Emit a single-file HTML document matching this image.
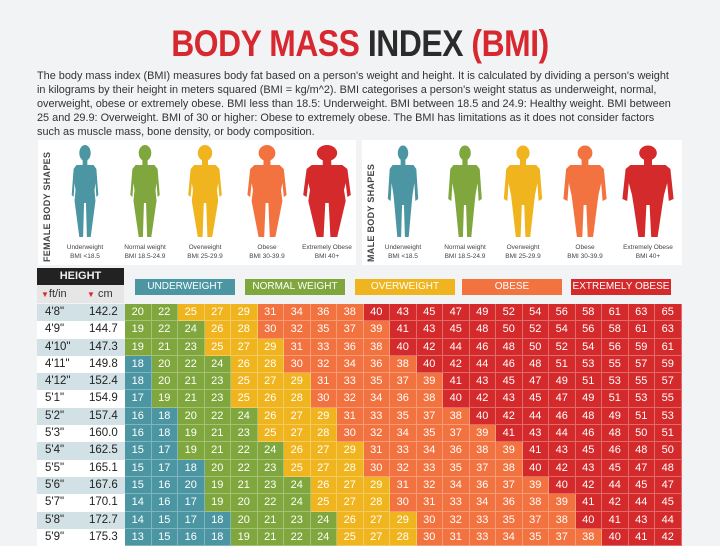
<!DOCTYPE html>
<html><head><meta charset="utf-8"><style>
*{margin:0;padding:0;box-sizing:border-box}
body{width:720px;height:539px;overflow:hidden;background:#f2f3f5;font-family:"Liberation Sans",sans-serif;position:relative}
.title{position:absolute;top:22px;left:0;width:720px;text-align:center;font-size:37px;font-weight:bold;transform:scaleX(0.86);letter-spacing:-0.5px;line-height:44px}
.r{color:#d7282f}.k{color:#2b2b2b}
.para{position:absolute;left:37px;top:69px;width:660px;font-size:10.9px;line-height:14px;color:#333;white-space:nowrap}
.panel{position:absolute;top:140px;height:125px;background:#fff}
.vl{position:absolute;font-size:9px;font-weight:bold;color:#444;transform:rotate(-90deg);transform-origin:left top;white-space:nowrap;letter-spacing:0.3px}
.lab{position:absolute;font-size:6.5px;color:#444;text-align:center;width:70px;line-height:9px}
.hd{position:absolute;left:37px;top:268px;width:87px;height:17px;background:#222;color:#eee;font-weight:bold;font-size:11px;text-align:center;line-height:17px}
.hs{position:absolute;left:37px;top:285px;width:87px;height:18px;background:#e6e6e6;font-size:11px;color:#333;line-height:18px}
.cat{position:absolute;top:279px;height:16px;width:100px;color:#fff;font-size:10px;text-align:center;line-height:16px}
.hc{position:absolute;left:37px;top:304px;width:88px}
.hc div{height:17.3px;font-size:11.5px;color:#222;position:relative;line-height:17.3px}
.hc div:nth-child(odd){background:#d2e1e5}
.hc div:nth-child(even){background:#fff}
.hc span{position:absolute}
.g{position:absolute;left:125px;top:304px;display:grid;grid-template-columns:repeat(21,26.5px);grid-auto-rows:17.3px}
.g b{font-weight:normal;font-size:11px;color:#fff;text-align:center;line-height:17.3px;border-right:1px solid rgba(255,255,255,.3);border-bottom:1px solid rgba(255,255,255,.3)}
.u{background:#4b96a2}.n{background:#7fa73d}.o{background:#f0b51e}.b{background:#f27240}.x{background:#d42a2c}
</style></head><body>
<div class="title"><span class="r">BODY MASS</span> <span class="k">INDEX</span> <span class="r">(BMI)</span></div>
<div class="para">The body mass index (BMI) measures body fat based on a person's weight and height. It is calculated by dividing a person's weight<br>in kilograms by their height in meters squared (BMI = kg/m^2). BMI categorises a person's weight status as underweight, normal,<br>overweight, obese or extremely obese. BMI less than 18.5: Underweight. BMI between 18.5 and 24.9: Healthy weight. BMI between<br>25 and 29.9: Overweight. BMI of 30 or higher: Obese to extremely obese. The BMI has limitations as it does not consider factors<br>such as muscle mass, bone density, or body composition.</div>

<div class="panel" style="left:38px;width:318px"></div>
<div class="panel" style="left:362px;width:320px"></div>
<div class="vl" style="left:42px;top:262px">FEMALE BODY SHAPES</div>
<div class="vl" style="left:366px;top:262px">MALE BODY SHAPES</div>

<svg style="position:absolute;left:0;top:0" width="720" height="539">
<defs>
<g id="f"><ellipse cx="0" cy="8" rx="6" ry="8"/><rect x="-2.5" y="14" width="5" height="7"/><path d="M-9,20 L9,20 L12,24 L14,50 L12,52 L11,38 L10,45 L11,56 L6,92 L2,92 L1,58 L-1,58 L-2,92 L-6,92 L-11,56 L-10,45 L-11,38 L-12,52 L-14,50 L-12,24 Z"/></g>
<g id="m"><ellipse cx="0" cy="8" rx="5.5" ry="7.5"/><rect x="-2.5" y="14" width="5" height="7"/><path d="M-11,20 L11,20 L14,24 L16,54 L13,56 L12,38 L10,50 L9,60 L6,92 L2,92 L1,60 L-1,60 L-2,92 L-6,92 L-9,60 L-10,50 L-12,38 L-13,56 L-16,54 L-14,24 Z"/></g>
</defs>
<use href="#f" transform="translate(85,145) scale(0.95,1)" fill="#4b96a2"/>
<use href="#f" transform="translate(145,145) scale(1.05,1)" fill="#7fa73d"/>
<use href="#f" transform="translate(205,145) scale(1.2,1)" fill="#f0b51e"/>
<use href="#f" transform="translate(267,145) scale(1.4,1)" fill="#f27240"/>
<use href="#f" transform="translate(327,145) scale(1.7,1)" fill="#d42a2c"/>
<use href="#m" transform="translate(403,145) scale(0.95,1)" fill="#4b96a2"/>
<use href="#m" transform="translate(465,145) scale(1.05,1)" fill="#7fa73d"/>
<use href="#m" transform="translate(523,145) scale(1.2,1)" fill="#f0b51e"/>
<use href="#m" transform="translate(585,145) scale(1.35,1)" fill="#f27240"/>
<use href="#m" transform="translate(648,145) scale(1.6,1)" fill="#d42a2c"/>
</svg>

<div class="lab" style="left:50px;top:243px">Underweight<br>BMI &lt;18.5</div>
<div class="lab" style="left:110px;top:243px">Normal weight<br>BMI 18.5-24.9</div>
<div class="lab" style="left:170px;top:243px">Overweight<br>BMI 25-29.9</div>
<div class="lab" style="left:232px;top:243px">Obese<br>BMI 30-39.9</div>
<div class="lab" style="left:292px;top:243px">Extremely Obese<br>BMI 40+</div>
<div class="lab" style="left:368px;top:243px">Underweight<br>BMI &lt;18.5</div>
<div class="lab" style="left:430px;top:243px">Normal weight<br>BMI 18.5-24.9</div>
<div class="lab" style="left:488px;top:243px">Overweight<br>BMI 25-29.9</div>
<div class="lab" style="left:550px;top:243px">Obese<br>BMI 30-39.9</div>
<div class="lab" style="left:613px;top:243px">Extremely Obese<br>BMI 40+</div>

<div class="hd">HEIGHT</div>
<div class="hs"><span style="position:absolute;left:4px"><span style="color:#d7282f;font-size:8px">▼</span>ft/in</span><span style="position:absolute;left:50px"><span style="color:#d7282f;font-size:8px">▼</span> cm</span></div>
<div class="cat u" style="left:135px">UNDERWEIGHT</div>
<div class="cat n" style="left:245px">NORMAL WEIGHT</div>
<div class="cat o" style="left:355px">OVERWEIGHT</div>
<div class="cat b" style="left:462px">OBESE</div>
<div class="cat x" style="left:571px">EXTREMELY OBESE</div>

<div class="hc">
<div><span style="left:8px">4'8"</span><span style="left:52px">142.2</span></div>
<div><span style="left:8px">4'9"</span><span style="left:52px">144.7</span></div>
<div><span style="left:8px">4'10"</span><span style="left:52px">147.3</span></div>
<div><span style="left:8px">4'11"</span><span style="left:52px">149.8</span></div>
<div><span style="left:8px">4'12"</span><span style="left:52px">152.4</span></div>
<div><span style="left:8px">5'1"</span><span style="left:52px">154.9</span></div>
<div><span style="left:8px">5'2"</span><span style="left:52px">157.4</span></div>
<div><span style="left:8px">5'3"</span><span style="left:52px">160.0</span></div>
<div><span style="left:8px">5'4"</span><span style="left:52px">162.5</span></div>
<div><span style="left:8px">5'5"</span><span style="left:52px">165.1</span></div>
<div><span style="left:8px">5'6"</span><span style="left:52px">167.6</span></div>
<div><span style="left:8px">5'7"</span><span style="left:52px">170.1</span></div>
<div><span style="left:8px">5'8"</span><span style="left:52px">172.7</span></div>
<div><span style="left:8px">5'9"</span><span style="left:52px">175.3</span></div>
</div>

<div class="g">
<b class=n>20</b><b class=n>22</b><b class=o>25</b><b class=o>27</b><b class=o>29</b><b class=b>31</b><b class=b>34</b><b class=b>36</b><b class=b>38</b><b class=x>40</b><b class=x>43</b><b class=x>45</b><b class=x>47</b><b class=x>49</b><b class=x>52</b><b class=x>54</b><b class=x>56</b><b class=x>58</b><b class=x>61</b><b class=x>63</b><b class=x>65</b>
<b class=n>19</b><b class=n>22</b><b class=n>24</b><b class=o>26</b><b class=o>28</b><b class=b>30</b><b class=b>32</b><b class=b>35</b><b class=b>37</b><b class=b>39</b><b class=x>41</b><b class=x>43</b><b class=x>45</b><b class=x>48</b><b class=x>50</b><b class=x>52</b><b class=x>54</b><b class=x>56</b><b class=x>58</b><b class=x>61</b><b class=x>63</b>
<b class=n>19</b><b class=n>21</b><b class=n>23</b><b class=o>25</b><b class=o>27</b><b class=o>29</b><b class=b>31</b><b class=b>33</b><b class=b>36</b><b class=b>38</b><b class=x>40</b><b class=x>42</b><b class=x>44</b><b class=x>46</b><b class=x>48</b><b class=x>50</b><b class=x>52</b><b class=x>54</b><b class=x>56</b><b class=x>59</b><b class=x>61</b>
<b class=u>18</b><b class=n>20</b><b class=n>22</b><b class=n>24</b><b class=o>26</b><b class=o>28</b><b class=b>30</b><b class=b>32</b><b class=b>34</b><b class=b>36</b><b class=b>38</b><b class=x>40</b><b class=x>42</b><b class=x>44</b><b class=x>46</b><b class=x>48</b><b class=x>51</b><b class=x>53</b><b class=x>55</b><b class=x>57</b><b class=x>59</b>
<b class=u>18</b><b class=n>20</b><b class=n>21</b><b class=n>23</b><b class=o>25</b><b class=o>27</b><b class=o>29</b><b class=b>31</b><b class=b>33</b><b class=b>35</b><b class=b>37</b><b class=b>39</b><b class=x>41</b><b class=x>43</b><b class=x>45</b><b class=x>47</b><b class=x>49</b><b class=x>51</b><b class=x>53</b><b class=x>55</b><b class=x>57</b>
<b class=u>17</b><b class=n>19</b><b class=n>21</b><b class=n>23</b><b class=o>25</b><b class=o>26</b><b class=o>28</b><b class=b>30</b><b class=b>32</b><b class=b>34</b><b class=b>36</b><b class=b>38</b><b class=x>40</b><b class=x>42</b><b class=x>43</b><b class=x>45</b><b class=x>47</b><b class=x>49</b><b class=x>51</b><b class=x>53</b><b class=x>55</b>
<b class=u>16</b><b class=u>18</b><b class=n>20</b><b class=n>22</b><b class=n>24</b><b class=o>26</b><b class=o>27</b><b class=o>29</b><b class=b>31</b><b class=b>33</b><b class=b>35</b><b class=b>37</b><b class=b>38</b><b class=x>40</b><b class=x>42</b><b class=x>44</b><b class=x>46</b><b class=x>48</b><b class=x>49</b><b class=x>51</b><b class=x>53</b>
<b class=u>16</b><b class=u>18</b><b class=n>19</b><b class=n>21</b><b class=n>23</b><b class=o>25</b><b class=o>27</b><b class=o>28</b><b class=b>30</b><b class=b>32</b><b class=b>34</b><b class=b>35</b><b class=b>37</b><b class=b>39</b><b class=x>41</b><b class=x>43</b><b class=x>44</b><b class=x>46</b><b class=x>48</b><b class=x>50</b><b class=x>51</b>
<b class=u>15</b><b class=u>17</b><b class=n>19</b><b class=n>21</b><b class=n>22</b><b class=n>24</b><b class=o>26</b><b class=o>27</b><b class=o>29</b><b class=b>31</b><b class=b>33</b><b class=b>34</b><b class=b>36</b><b class=b>38</b><b class=b>39</b><b class=x>41</b><b class=x>43</b><b class=x>45</b><b class=x>46</b><b class=x>48</b><b class=x>50</b>
<b class=u>15</b><b class=u>17</b><b class=u>18</b><b class=n>20</b><b class=n>22</b><b class=n>23</b><b class=o>25</b><b class=o>27</b><b class=o>28</b><b class=b>30</b><b class=b>32</b><b class=b>33</b><b class=b>35</b><b class=b>37</b><b class=b>38</b><b class=x>40</b><b class=x>42</b><b class=x>43</b><b class=x>45</b><b class=x>47</b><b class=x>48</b>
<b class=u>15</b><b class=u>16</b><b class=u>20</b><b class=n>19</b><b class=n>21</b><b class=n>23</b><b class=n>24</b><b class=o>26</b><b class=o>27</b><b class=o>29</b><b class=b>31</b><b class=b>32</b><b class=b>34</b><b class=b>36</b><b class=b>37</b><b class=b>39</b><b class=x>40</b><b class=x>42</b><b class=x>44</b><b class=x>45</b><b class=x>47</b>
<b class=u>14</b><b class=u>16</b><b class=u>17</b><b class=n>19</b><b class=n>20</b><b class=n>22</b><b class=n>24</b><b class=o>25</b><b class=o>27</b><b class=o>28</b><b class=b>30</b><b class=b>31</b><b class=b>33</b><b class=b>34</b><b class=b>36</b><b class=b>38</b><b class=b>39</b><b class=x>41</b><b class=x>42</b><b class=x>44</b><b class=x>45</b>
<b class=u>14</b><b class=u>15</b><b class=u>17</b><b class=u>18</b><b class=n>20</b><b class=n>21</b><b class=n>23</b><b class=n>24</b><b class=o>26</b><b class=o>27</b><b class=o>29</b><b class=b>30</b><b class=b>32</b><b class=b>33</b><b class=b>35</b><b class=b>37</b><b class=b>38</b><b class=x>40</b><b class=x>41</b><b class=x>43</b><b class=x>44</b>
<b class=u>13</b><b class=u>15</b><b class=u>16</b><b class=u>18</b><b class=n>19</b><b class=n>21</b><b class=n>22</b><b class=n>24</b><b class=o>25</b><b class=o>27</b><b class=o>28</b><b class=b>30</b><b class=b>31</b><b class=b>33</b><b class=b>34</b><b class=b>35</b><b class=b>37</b><b class=b>38</b><b class=x>40</b><b class=x>41</b><b class=x>42</b>
</div>
</body></html>
